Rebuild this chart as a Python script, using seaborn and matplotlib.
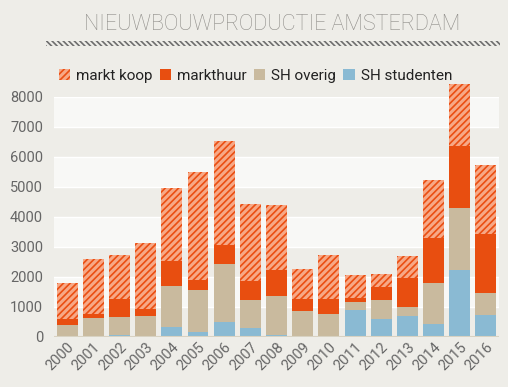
import numpy as np
import pandas as pd
import matplotlib.pyplot as plt
import seaborn as sns
from matplotlib.patches import Patch, Rectangle

# --- DATA ---
years = [str(y) for y in range(2000, 2017)]
sh_studenten = [0, 0, 55, 0, 335, 180, 500, 300, 65, 20, 0, 900, 610, 715, 425, 2240, 735]
sh_overig = [400, 635, 615, 700, 1380, 1390, 1930, 925, 1305, 840, 780, 260, 625, 300, 1370, 2060, 725]
markthuur = [190, 125, 590, 225, 815, 325, 645, 645, 870, 410, 490, 145, 415, 935, 1515, 2075, 1960]
markt_koop = [1225, 1825, 1470, 2195, 2440, 3610, 3455, 2555, 2170, 1005, 1460, 745, 445, 760, 1925, 2050, 2305]

series_names = ["markt koop", "markthuur", "SH overig", "SH studenten"]
y_ticks = list(range(0, 8001, 1000))

# --- FARBEN ---
BG = "#EEEDE8"
BAND = "#F8F8F6"
C_KOOP_BG = "#F7A886"
C_KOOP = "#EA4E12"
C_HUUR = "#E84E10"
C_OVERIG = "#C9BA9E"
C_STUD = "#8ABAD3"

df = pd.DataFrame({
    "Jaar": years,
    "SH studenten": sh_studenten,
    "SH overig": sh_overig,
    "markthuur": markthuur,
    "markt koop": markt_koop,
})
# kumulativ fuer gestapelte Balken (von unten nach oben)
df["c_stud"] = df["SH studenten"]
df["c_overig"] = df["c_stud"] + df["SH overig"]
df["c_huur"] = df["c_overig"] + df["markthuur"]
df["c_koop"] = df["c_huur"] + df["markt koop"]

plt.rcParams["hatch.linewidth"] = 1.2
fig = plt.figure(figsize=(5.08, 3.87), dpi=100, facecolor=BG)
ax = fig.add_axes([0.1063, 0.1292, 0.8760, 0.6202])
ax.set_facecolor(BG)

# Hintergrundbaender
for lo in range(1000, 8000, 2000):
    ax.axhspan(lo, lo + 1000, color=BAND, zorder=0, lw=0)
for lo in range(1000, 9000, 1000):
    ax.axhline(lo, color="white", lw=1, zorder=0.5)

layers = [
    ("c_koop", C_KOOP_BG),
    ("c_huur", C_HUUR),
    ("c_overig", C_OVERIG),
    ("c_stud", C_STUD),
]
for col, color in layers:
    n_before = len(ax.patches)
    sns.barplot(data=df, x="Jaar", y=col, color=color, saturation=1,
                width=0.8, ax=ax, zorder=2, linewidth=0)
    if col == "c_koop":
        for p in ax.patches[n_before:]:
            p.set_hatch("/////")
            p.set_edgecolor(C_KOOP)
            p.set_linewidth(0)
            p.set_clip_on(False)

ax.axhline(0, color="#D8D2C2", lw=1.5, zorder=3)

ax.set_ylim(0, 8000)
ax.set_xlim(-0.5, len(years) - 0.5)
ax.set_yticks(y_ticks)
ax.set_xlabel("")
ax.set_ylabel("")
for s in ax.spines.values():
    s.set_visible(False)
ax.tick_params(length=0, labelsize=10.5, labelcolor="#666666")
ax.tick_params(axis="y", pad=8)
ax.tick_params(axis="x", pad=2)
for lbl in ax.get_xticklabels():
    lbl.set_rotation(45)
    lbl.set_ha("right")
    lbl.set_rotation_mode("anchor")
for lbl in ax.get_xticklabels() + ax.get_yticklabels():
    lbl.set_fontfamily("Roboto")

# Titel
fig.text(0.5354, 0.937, "NIEUWBOUWPRODUCTIE AMSTERDAM", ha="center", va="center",
         fontsize=15.5, color="#8E8C88", family="Roboto", fontweight="light")
# schraffierter Strich unter dem Titel
fig.patches.append(Rectangle((46 / 508, 1 - 46 / 387), 454 / 508, 5 / 387,
                             transform=fig.transFigure, fill=False, lw=0,
                             edgecolor="#6E6E6E", hatch="\\\\\\\\\\\\"))

# Legende
handles = [
    Patch(facecolor=C_KOOP_BG, edgecolor=C_KOOP, hatch="/////", lw=0),
    Patch(facecolor=C_HUUR, lw=0),
    Patch(facecolor=C_OVERIG, lw=0),
    Patch(facecolor=C_STUD, lw=0),
]
fig.legend(handles=handles, labels=series_names, loc="center left",
           bbox_to_anchor=(45 / 508, 1 - 76 / 387), ncol=4, frameon=False,
           handlelength=0.75, handleheight=0.75, handletextpad=0.4,
           columnspacing=0.45, prop={"family": "Roboto", "size": 11})
for t in fig.legends[0].get_texts():
    t.set_color("#222222")

fig.savefig("out.png", dpi=100, facecolor=BG)
